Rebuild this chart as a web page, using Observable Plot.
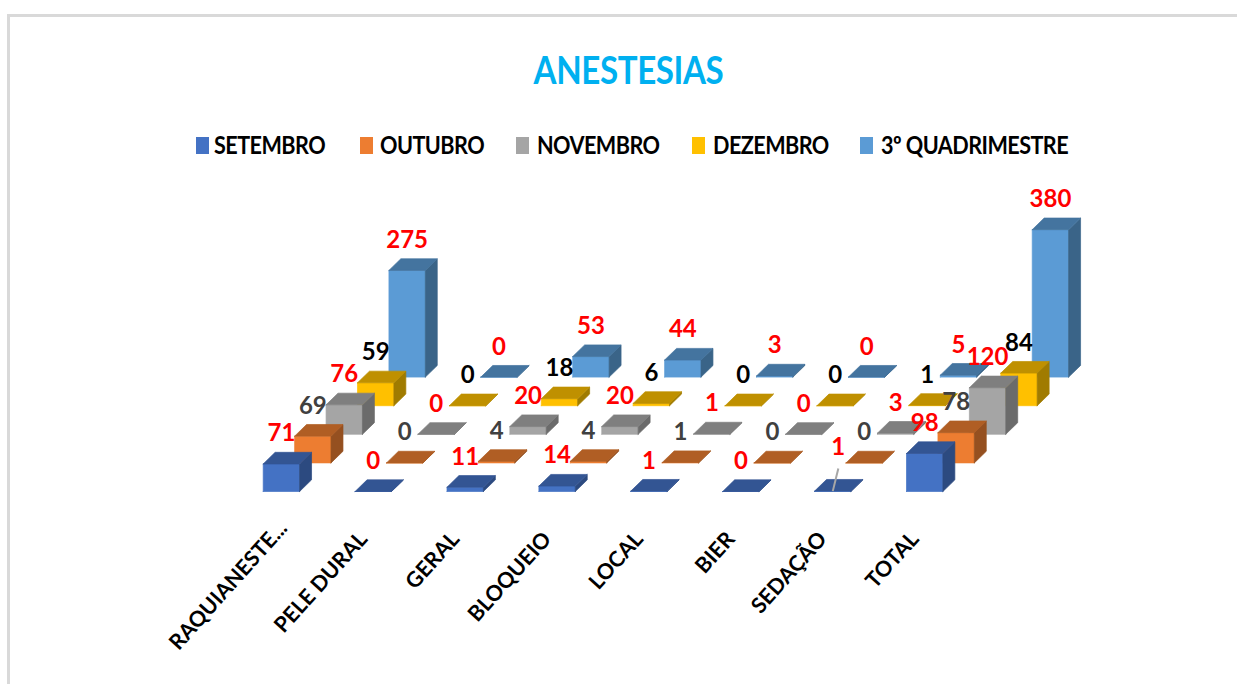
<!DOCTYPE html>
<html lang="pt">
<head>
<meta charset="utf-8">
<script src="https://cdn.jsdelivr.net/npm/d3@7"></script>
<script src="https://cdn.jsdelivr.net/npm/@observablehq/plot@0.6"></script>
<style>
html,body{margin:0;padding:0;background:#fff;width:1237px;height:684px;overflow:hidden;font-family:Lato,sans-serif}
#frame{position:absolute;left:7px;top:14px;right:0;bottom:0;border-top:3px solid #d9d9d9;border-left:3px solid #d9d9d9}
#title{position:absolute;left:10px;width:1237px;top:45px;text-align:center;color:#00B0F0;font-weight:700;font-size:39px;line-height:48px;letter-spacing:-.5px;transform:scaleX(.85);transform-origin:618px 0}
#legend{position:absolute;top:131px;left:0;height:28px;width:1237px}
.item{position:absolute;top:0;height:28px;line-height:28px;font-size:24px;font-weight:700;color:#000;white-space:nowrap;letter-spacing:-.6px}
.item i{position:absolute;top:6px;width:13px;height:17px}
.item span{position:absolute;top:0;transform:scaleX(.9);transform-origin:0 0}
#chart{position:absolute;left:0;top:170px}
#chart text.num{letter-spacing:-1.2px}
</style>
</head>
<body>
<div id="frame"></div>
<div id="title"></div>
<div id="legend"></div>
<div id="chart"></div>
<script>
const chartTitle = "ANESTESIAS";
const categories = ["RAQUIANESTE...", "PELE DURAL", "GERAL", "BLOQUEIO", "LOCAL", "BIER", "SEDAÇÃO", "TOTAL"];
const seriesNames = ["SETEMBRO", "OUTUBRO", "NOVEMBRO", "DEZEMBRO", "3º QUADRIMESTRE"];
const setembro = [71, 0, 11, 14, 1, 0, 1, 98];
const outubro = [69, 0, 4, 4, 1, 0, 0, 78];
const novembro = [76, 0, 20, 20, 1, 0, 3, 120];
const dezembro = [59, 0, 18, 6, 0, 0, 1, 84];
const quadrimestre = [275, 0, 53, 44, 3, 0, 5, 380];
const seriesValues = [setembro, outubro, novembro, dezembro, quadrimestre];

const frontColors = ["#4472C4", "#ED7D31", "#A5A5A5", "#FFC000", "#5B9BD5"];
const topColors = ["#335593", "#B05E24", "#7F7F7F", "#BF9000", "#44749F"];
const sideColors = ["#2C4A80", "#955020", "#6B6B6B", "#A07B00", "#3A6488"];
const labelColors = ["#FF0000", "#404040", "#FF0000", "#000000", "#FF0000"];

// oblique projection, in units of the scales (category steps, anaesthesia counts)
const seriesStepX = 0.342, seriesStepV = 73.7;
const barWidth = 0.396, depthX = 0.13, depthV = 30;
const labelLift = 78, axisLabelV = -113, axisLabelX = 0.09;
const px = (c, s, w = 0, d = 0) => c + s * seriesStepX + w * barWidth + d * depthX;
const py = (v, s, d = 0) => v + s * seriesStepV + d * depthV;

const faces = [];
const labels = [];
const leaders = [];
for (let s = seriesValues.length - 1; s >= 0; s--) {
  seriesValues[s].forEach((v, c) => {
    const add = (name, color, pts) => {
      const id = `${s}-${c}-${name}`;
      [...pts, pts[0]].forEach(([w, d, h]) =>
        faces.push({id, color, x: px(c, s, w, d), y: py(h ? v : 0, s, d)}));
    };
    add("front", frontColors[s], [[0, 0, 0], [1, 0, 0], [1, 0, 1], [0, 0, 1]]);
    add("side", sideColors[s], [[1, 0, 0], [1, 1, 0], [1, 1, 1], [1, 0, 1]]);
    add("top", topColors[s], [[0, 0, 1], [1, 0, 1], [1, 1, 1], [0, 1, 1]]);
    const moved = s === 0 && c === 6;
    const lx = px(c, s, 0.5) + (moved ? 0.06 : 0);
    const ly = py(v, s) + (moved ? 113 : labelLift);
    labels.push({s, x: lx, y: ly, text: String(v), color: labelColors[s]});
    if (moved) leaders.push({x1: px(c, s, 0.5), y1: py(v, s), x2: lx, y2: py(v, s) + 58});
  });
}
// the truncated first label sits a little further along its slope than the others
const axisLabels = categories.map((text, c) => ({
  text,
  x: c + axisLabelX + (c === 0 ? 0.13 : 0),
  y: axisLabelV + (c === 0 ? 28 : 0)
}));

const font = "Lato, sans-serif";
const plot = Plot.plot({
  width: 1237,
  height: 514,
  margin: 0,
  style: {background: "transparent", fontFamily: font},
  x: {domain: [-2.8586, 10.6017], range: [0, 1237], axis: null},
  y: {domain: [-497.4, 827.3], range: [514, 0], axis: null},
  color: {type: "identity"},
  marks: [
    Plot.line(faces, {x: "x", y: "y", z: "id", fill: "color", stroke: "color", strokeWidth: 0.7, curve: "linear"}),
    Plot.link(leaders, {x1: "x1", y1: "y1", x2: "x2", y2: "y2", stroke: "#A6A6A6", strokeWidth: 2}),
    Plot.text(labels, {x: "x", y: "y", text: "text", fill: "color", fontSize: 24, fontWeight: 700, fontFamily: font, lineAnchor: "middle", className: "num"}),
    Plot.text(axisLabels, {x: "x", y: "y", text: "text", rotate: -48, textAnchor: "end", lineAnchor: "middle", fill: "#000", fontSize: 21.5, fontWeight: 700, fontFamily: font})
  ]
});
document.getElementById("chart").append(plot);
document.getElementById("title").textContent = chartTitle;

const legendSwatchX = [196, 360, 516, 692, 860];
const legendTextGap = [18, 20, 21, 21, 21];
const legend = document.getElementById("legend");
seriesNames.forEach((name, i) => {
  const item = document.createElement("div");
  item.className = "item";
  item.style.left = legendSwatchX[i] + "px";
  const sw = document.createElement("i");
  sw.style.background = frontColors[i];
  const t = document.createElement("span");
  t.style.left = legendTextGap[i] + "px";
  t.textContent = name;
  item.append(sw, t);
  legend.append(item);
});
</script>
</body>
</html>
